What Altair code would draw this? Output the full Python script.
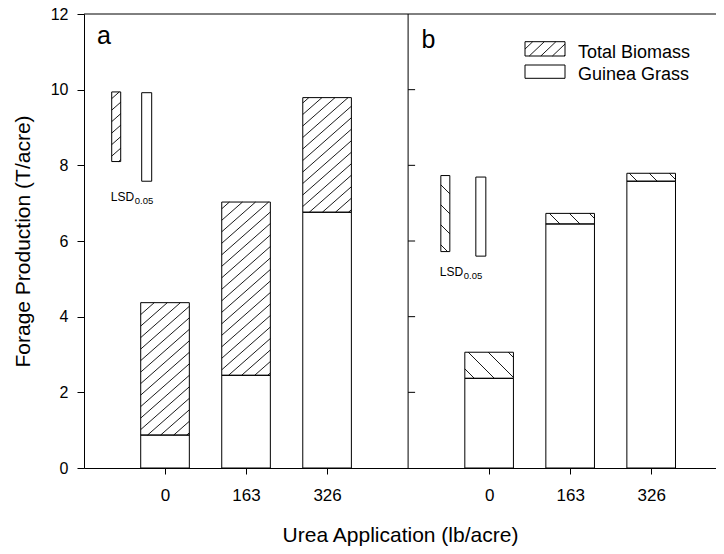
import altair as alt
import pandas as pd
import numpy as np

# ---------------- data ----------------
doses = ["0", "163", "326"]
panels = ["a", "b"]
guinea_a = [0.87, 2.45, 6.76]
total_a = [4.37, 7.03, 9.79]
guinea_b = [2.37, 6.45, 7.58]
total_b = [3.06, 6.73, 7.79]
# LSD(0.05) bars: [bottom, top]
lsd_total_a = [8.10, 9.94]
lsd_guinea_a = [7.58, 9.92]
lsd_total_b = [5.72, 7.73]
lsd_guinea_b = [5.60, 7.69]
series = ["Total Biomass", "Guinea Grass"]

# ---------------- layout ----------------
W, H = 632, 454
XMAX = 7.8
YMAX = 12
UX = W / XMAX
UY = H / YMAX
BAR_HALF = 0.3
PANEL_OFFSET = {"a": 0, "b": 4}
HATCH = {"a": ("/", 0.88, 11.5), "b": ("\\", 1.0, 20.0)}
LSD_LEFT = {"a": (0.342, 0.712), "b": (4.404, 4.836)}
LSD_W = (9 / UX, 10 / UX)
FONT = "Liberation Sans"


def hatch_segments(x0, x1, y0, y1, direction, m, spacing):
    u0, u1 = x0 * UX, x1 * UX
    v0, v1 = y0 * UY, y1 * UY
    segs = []
    if direction == "/":
        cmin, cmax = v0 - m * u1, v1 - m * u0
        for k in range(int(np.ceil(cmin / spacing)), int(np.floor(cmax / spacing)) + 1):
            c = k * spacing
            ua = max(u0, (v0 - c) / m)
            ub = min(u1, (v1 - c) / m)
            if ub - ua > 0.4:
                segs.append((ua / UX, (m * ua + c) / UY, ub / UX, (m * ub + c) / UY))
    else:
        cmin, cmax = v0 + m * u0, v1 + m * u1
        for k in range(int(np.ceil(cmin / spacing)), int(np.floor(cmax / spacing)) + 1):
            c = k * spacing
            ua = max(u0, (c - v1) / m)
            ub = min(u1, (c - v0) / m)
            if ub - ua > 0.4:
                segs.append((ua / UX, (c - m * ua) / UY, ub / UX, (c - m * ub) / UY))
    return segs


values = {"a": (guinea_a, total_a), "b": (guinea_b, total_b)}
lsd_vals = {"a": (lsd_total_a, lsd_guinea_a), "b": (lsd_total_b, lsd_guinea_b)}

rects = []   # all rectangles (bars + LSD bars)
hatch = []
lsd_labels = []
for p in panels:
    g, t = values[p]
    d, m, s = HATCH[p]
    for i, dose in enumerate(doses):
        pos = PANEL_OFFSET[p] + i + 1
        x0, x1 = pos - BAR_HALF, pos + BAR_HALF
        rects.append(dict(x0=x0, x1=x1, y0=0, y1=g[i], kind=series[1]))
        rects.append(dict(x0=x0, x1=x1, y0=g[i], y1=t[i], kind=series[0]))
        for seg in hatch_segments(x0, x1, g[i], t[i], d, m, s):
            hatch.append(dict(xa=seg[0], ya=seg[1], xb=seg[2], yb=seg[3]))
    lt, lg = lsd_vals[p]
    hl, wl = LSD_LEFT[p]
    rects.append(dict(x0=hl, x1=hl + LSD_W[0], y0=lt[0], y1=lt[1], kind="LSD total"))
    rects.append(dict(x0=wl, x1=wl + LSD_W[1], y0=lg[0], y1=lg[1], kind="LSD guinea"))
    for seg in hatch_segments(hl, hl + LSD_W[0], lt[0], lt[1], d, m, s):
        hatch.append(dict(xa=seg[0], ya=seg[1], xb=seg[2], yb=seg[3]))
    lsd_labels.append(dict(x=hl, y=lg[0], main="LSD", sub="0.05"))

# legend geometry (pixels inside plot, top-down) -> data units
LEG_X0, LEG_X1 = 441, 481
LEG_BOX = [(27.7, 42.0), (51.0, 64.3)]
LEG_TEXT_X = 494
LEG_TEXT_Y = [43.5, 65.5]
leg_rects = []
for (ya, yb) in LEG_BOX:
    leg_rects.append(dict(x0=LEG_X0 / UX, x1=LEG_X1 / UX, y0=(H - yb) / UY, y1=(H - ya) / UY))
for seg in hatch_segments(leg_rects[0]["x0"], leg_rects[0]["x1"], leg_rects[0]["y0"],
                          leg_rects[0]["y1"], "/", 0.95, 11.0):
    hatch.append(dict(xa=seg[0], ya=seg[1], xb=seg[2], yb=seg[3]))
rects_all = pd.DataFrame(rects + [dict(r, kind="legend") for r in leg_rects])
hatch_df = pd.DataFrame(hatch)
lsd_df = pd.DataFrame(lsd_labels)
leg_text = pd.DataFrame({"label": series, "x": [LEG_TEXT_X / UX] * 2,
                         "y": [(H - v) / UY for v in LEG_TEXT_Y]})
# panel letters (pixels inside plot) -> data units
panel_lab = pd.DataFrame({"label": panels,
                          "x": [13 / UX, 337.5 / UX],
                          "y": [(H - 30) / UY, (H - 34) / UY]})

xs = alt.Scale(domain=[0, XMAX], nice=False, zero=False)
ys = alt.Scale(domain=[0, YMAX], nice=False, zero=False)

tick_pos = [PANEL_OFFSET[p] + i + 1 for p in panels for i in range(len(doses))]
label_arr = ["''"] * 8
for p in panels:
    for i, dose in enumerate(doses):
        label_arr[PANEL_OFFSET[p] + i + 1] = "'" + dose + "'"
label_expr = "[" + ",".join(label_arr) + "][round(datum.value)]"

x_axis = alt.Axis(values=tick_pos, labelExpr=label_expr, title="Urea Application (lb/acre)",
                  grid=False, tickSize=6, labelPadding=13, titlePadding=21,
                  domainColor="black", tickColor="black", labelColor="black", titleColor="black",
                  labelFont=FONT, titleFont=FONT, labelFontSize=17, titleFontSize=21,
                  titleFontWeight="normal")
y_axis = alt.Axis(values=list(range(0, 13, 2)), title="Forage Production (T/acre)",
                  grid=False, tickSize=7, labelPadding=9, titlePadding=17,
                  domainColor="black", tickColor="black", labelColor="black", titleColor="black",
                  labelFont=FONT, titleFont=FONT, labelFontSize=16, titleFontSize=21,
                  titleFontWeight="normal")


def X(f):
    return alt.X(f, type="quantitative", scale=xs, axis=x_axis)


def Y(f):
    return alt.Y(f, type="quantitative", scale=ys, axis=y_axis)


base_rects = alt.Chart(rects_all).mark_rect(fill="white", strokeWidth=0).encode(
    x=X("x0"), x2="x1", y=Y("y0"), y2="y1")

hatch_layer = alt.Chart(hatch_df).mark_rule(color="black", strokeWidth=0.9).encode(
    x=X("xa"), x2="xb", y=Y("ya"), y2="yb")

outline = alt.Chart(rects_all).mark_rect(fill="white", fillOpacity=0, stroke="black",
                                          strokeWidth=1).encode(
    x=X("x0"), x2="x1", y=Y("y0"), y2="y1")

top_line = alt.Chart(pd.DataFrame({"y": [YMAX]})).mark_rule(color="black", strokeWidth=1).encode(
    y=Y("y"))
divider = alt.Chart(pd.DataFrame({"x": [PANEL_OFFSET["b"]]})).mark_rule(
    color="black", strokeWidth=1).encode(x=X("x"))
div_ticks = alt.Chart(pd.DataFrame({"y": list(range(2, 12, 2))})).transform_calculate(
    xa=str(PANEL_OFFSET["b"]), xb=str(PANEL_OFFSET["b"] + 7 / UX)
).mark_rule(color="black", strokeWidth=1).encode(
    x=X("xa"), x2="xb", y=Y("y"))

lsd_main = alt.Chart(lsd_df).mark_text(align="left", baseline="alphabetic", dx=-1, dy=20,
                                       font=FONT, fontSize=12, color="black").encode(
    x=X("x"), y=Y("y"), text="main:N")
lsd_sub = alt.Chart(lsd_df).mark_text(align="left", baseline="alphabetic", dx=23, dy=22.5,
                                      font=FONT, fontSize=9.5, color="black").encode(
    x=X("x"), y=Y("y"), text="sub:N")

leg_txt = alt.Chart(leg_text).mark_text(align="left", baseline="alphabetic", font=FONT,
                                        fontSize=18, color="black").encode(
    x=X("x"), y=Y("y"), text="label:N")

letters = alt.Chart(panel_lab).mark_text(align="left", baseline="alphabetic", font=FONT,
                                         fontSize=25, color="black").encode(
    x=X("x"), y=Y("y"), text="label:N")

chart = alt.layer(base_rects, hatch_layer, outline, top_line, divider, div_ticks,
                  lsd_main, lsd_sub, leg_txt, letters).properties(
    width=W, height=H,
    autosize=alt.AutoSizeParams(type="none"),
    padding={"left": 76, "top": 6, "right": 0, "bottom": 78},
).configure_view(strokeWidth=0)

chart.save("out.html", embed_options={"renderer": "svg", "actions": False})
